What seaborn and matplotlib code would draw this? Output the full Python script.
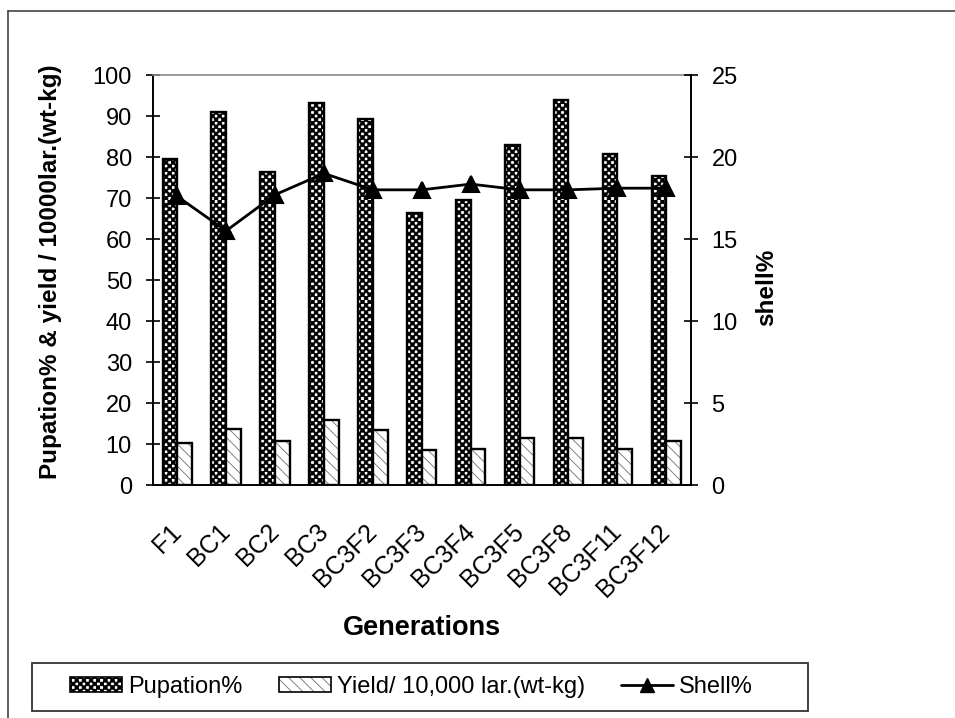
import numpy as np
import pandas as pd
import matplotlib
matplotlib.use("Agg")
import matplotlib.pyplot as plt
from matplotlib import hatch as mhatch
from matplotlib.path import Path
from matplotlib.patches import Patch, Rectangle
from matplotlib.lines import Line2D
import seaborn as sns

# ---- data -------------------------------------------------------------
generations = ["F1", "BC1", "BC2", "BC3", "BC3F2", "BC3F3", "BC3F4",
               "BC3F5", "BC3F8", "BC3F11", "BC3F12"]
pupation = [79.5, 91.0, 76.4, 93.1, 89.2, 66.4, 69.5, 82.9, 93.9, 80.7, 75.4]
yield_kg = [10.2, 13.6, 10.8, 15.9, 13.3, 8.5, 8.7, 11.4, 11.4, 8.7, 10.8]
shell = [17.6, 15.5, 17.7, 19.0, 18.0, 18.0, 18.35, 18.0, 18.0, 18.1, 18.1]

series_names = ["Pupation%", "Yield/ 10,000 lar.(wt-kg)", "Shell%"]
left_ticks = list(range(0, 101, 10))
right_ticks = list(range(0, 26, 5))


# ---- checkerboard fill pattern (replaces the '*' hatch) -----------------
class CheckerHatch(mhatch.HatchPatternBase):
    filled = True

    def __init__(self, hatch, density):
        self.cells = 28
        self.on = "*" in hatch
        self.num_vertices = (self.cells * self.cells // 2) * 5 if self.on else 0

    def set_vertices_and_codes(self, vertices, codes):
        n = self.cells
        s = 1.0 / n
        k = 0
        for i in range(n):
            for j in range(n):
                if (i + j) % 2:
                    continue
                x0, y0 = i * s, j * s
                x1, y1 = (i + 1) * s, (j + 1) * s
                vertices[k:k + 5] = [(x0, y0), (x1, y0), (x1, y1), (x0, y1), (x0, y0)]
                codes[k:k + 5] = [Path.MOVETO, Path.LINETO, Path.LINETO,
                                  Path.LINETO, Path.CLOSEPOLY]
                k += 5


mhatch._hatch_types = [t for t in mhatch._hatch_types
                       if t is not mhatch.Stars] + [CheckerHatch]

CHECK = "*"
DIAG = "\\\\\\"
DIAG_COLOR = "#707070"

# ---- style --------------------------------------------------------------
sns.set_theme(style="white")
plt.rcParams["font.family"] = ["Liberation Sans", "DejaVu Sans"]
plt.rcParams["hatch.linewidth"] = 0.6
for key in ["axes.edgecolor", "text.color", "axes.labelcolor",
            "xtick.color", "ytick.color"]:
    plt.rcParams[key] = "black"

df = pd.DataFrame({
    "Generation": generations * 2,
    "value": pupation + yield_kg,
    "series": [series_names[0]] * len(generations) + [series_names[1]] * len(generations),
})

fig = plt.figure(figsize=(9.55, 7.18), dpi=100)
fig.patch.set_facecolor("white")
ax = fig.add_axes([0.160, 0.3245, 0.5633, 0.571])

sns.barplot(data=df, x="Generation", y="value", hue="series",
            order=generations, hue_order=series_names[:2],
            palette=["white", "white"], width=0.6, gap=0,
            edgecolor="black", linewidth=1.7, legend=False, ax=ax)

n = len(generations)
for i, p in enumerate(ax.patches[:2 * n]):
    p.set_edgecolor("black")
    if i < n:
        p.set_hatch(CHECK)
    else:
        p.set_hatch(DIAG)
        p._hatch_color = matplotlib.colors.to_rgba(DIAG_COLOR)

ax.set_ylim(0, 100)
ax.set_xlim(-0.5, n - 0.5)
ax.set_yticks(left_ticks)
ax.set_yticklabels([str(t) for t in left_ticks], fontsize=17)
ax.set_xticks(range(n))
ax.set_xticklabels(generations, fontsize=18, rotation=45, ha="right",
                   va="center", rotation_mode="anchor")
ax.set_xticks(np.arange(-0.5, n, 1.0), minor=True)
ax.tick_params(axis="x", which="major", length=0, pad=31)
ax.tick_params(axis="x", which="minor", direction="inout", length=10,
               width=1.2, color="black")
ax.tick_params(axis="y", direction="inout", length=10, width=1.2,
               color="black", pad=10, left=True)
ax.set_xlabel("Generations", fontsize=19.5, fontweight="bold")
ax.set_ylabel("Pupation% & yield / 10000lar.(wt-kg)", fontsize=17.5,
              fontweight="bold")
ax.yaxis.set_label_coords(-0.169, 0.52)
ax.xaxis.set_label_coords(0.5, -0.318)

for side in ["left", "bottom"]:
    ax.spines[side].set_color("black")
    ax.spines[side].set_linewidth(1.4)
ax.spines["right"].set_visible(False)
ax.spines["top"].set_color("#8a8a8a")
ax.spines["top"].set_linewidth(1.2)

# ---- shell% on the secondary axis --------------------------------------
ax2 = ax.twinx()
sns.pointplot(x=generations, y=shell, order=generations, color="black",
              marker="^", markersize=11, linewidth=2, ax=ax2)
ax2.set_ylim(0, 25)
ax2.set_xlim(-0.5, n - 0.5)
ax2.set_yticks(right_ticks)
ax2.set_yticklabels([str(t) for t in right_ticks], fontsize=17)
ax2.tick_params(axis="y", direction="inout", length=10, width=1.2,
                color="black", pad=10, right=True)
ax2.set_ylabel("shell%", fontsize=17.5, fontweight="bold")
ax2.yaxis.set_label_coords(1.12, 0.483)
for side in ["left", "top", "bottom"]:
    ax2.spines[side].set_visible(False)
ax2.spines["right"].set_color("black")
ax2.spines["right"].set_linewidth(1.4)
ax2.grid(False)
ax.grid(False)

# ---- legend -------------------------------------------------------------
h_pup = Patch(facecolor="white", edgecolor="black", hatch=CHECK, linewidth=1.2)
h_yld = Patch(facecolor="white", edgecolor="black", hatch=DIAG, linewidth=1.2)
h_yld._hatch_color = matplotlib.colors.to_rgba(DIAG_COLOR)
h_sh = Line2D([], [], color="black", linewidth=2, marker="^", markersize=10)
leg = fig.legend([h_pup, h_yld, h_sh], series_names, ncol=3,
                 loc="center left", bbox_to_anchor=(70 / 955, 1 - 687 / 718),
                 fontsize=17, frameon=False, handlelength=2.2,
                 handleheight=0.6, handletextpad=0.25, columnspacing=1.55,
                 borderpad=0, borderaxespad=0)

fig.add_artist(Rectangle((32 / 955, 1 - 711 / 718), 776 / 955, 48 / 718,
                         transform=fig.transFigure, fill=False,
                         edgecolor="#333333", linewidth=1.3))

# ---- outer frame --------------------------------------------------------
fig.add_artist(Line2D([8 / 955, 8 / 955], [0, 1 - 11 / 718],
                      transform=fig.transFigure, color="#444444", linewidth=1.2))
fig.add_artist(Line2D([8 / 955, 1], [1 - 11 / 718, 1 - 11 / 718],
                      transform=fig.transFigure, color="#444444", linewidth=1.2))

fig.savefig("out.png", dpi=100, facecolor="white")
